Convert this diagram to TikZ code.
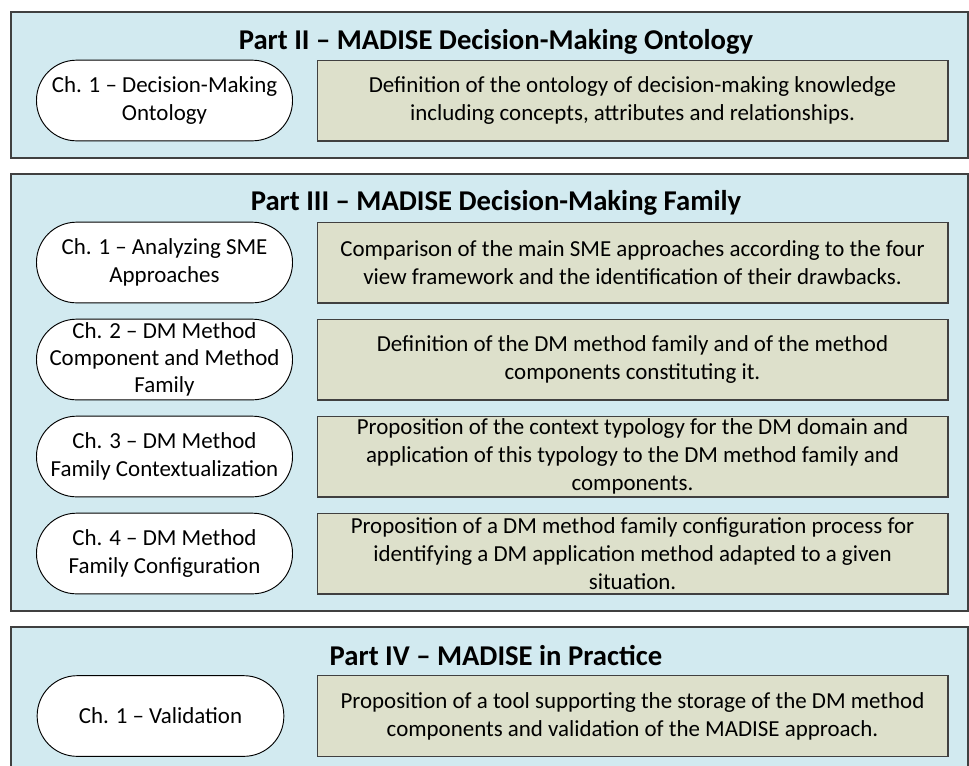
\documentclass[tikz,border=0pt]{standalone}
\usepackage{fontspec}
\setmainfont{Carlito}
\definecolor{partblue}{RGB}{210,234,240}
\definecolor{descgreen}{RGB}{221,224,203}
\definecolor{edgegray}{RGB}{64,64,64}
\tikzset{
  partpanel/.style={draw=edgegray,line width=1.1pt,fill=partblue},
  parttitle/.style={font=\bfseries\fontsize{21.5}{25}\selectfont},
  chapter/.style={draw=black,line width=0.7pt,fill=white,rounded corners=30pt,
    minimum width=192pt,minimum height=60.5pt,align=center,inner sep=0pt,
    font=\fontsize{17.2}{20.5}\selectfont},
  desc/.style={draw=edgegray,line width=1pt,fill=descgreen,
    minimum width=473pt,minimum height=60.5pt,align=center,inner sep=0pt,
    font=\fontsize{17.2}{21}\selectfont}
}
\begin{document}
\begin{tikzpicture}[x=0.75pt,y=-0.75pt]
\useasboundingbox (0,0) rectangle (969,765);
\begin{scope}
\draw[partpanel] (11,12) rectangle (968,158);
\draw[partpanel] (11,174) rectangle (968,611);
\draw[partpanel] (11,627) rectangle (968,790);
\end{scope}
\begin{scope}
\node[parttitle] (titleII) at (496,42) {Part II -- MADISE Decision-Making Ontology};
\node[chapter] (chIIa) at (164.5,100.5) {Ch. 1 -- Decision-Making\\Ontology};
\node[desc] (descIIa) at (632.5,100.5) {Definition of the ontology of decision-making knowledge\\including concepts, attributes and relationships.};
\end{scope}
\begin{scope}
\node[parttitle] (titleIII) at (496,203) {Part III -- MADISE Decision-Making Family};
\node[chapter] (chIIIa) at (164.5,262.5) {Ch. 1 -- Analyzing SME\\Approaches};
\node[desc] (descIIIa) at (632.5,262.5) {Comparison of the main SME approaches according to the four\\view framework and the identification of their drawbacks.};
\node[chapter] (chIIIb) at (164.5,359.5) {Ch. 2 -- DM Method\\Component and Method\\Family};
\node[desc] (descIIIb) at (632.5,359.5) {Definition of the DM method family and of the method\\components constituting it.};
\node[chapter] (chIIIc) at (164.5,456.5) {Ch. 3 -- DM Method\\Family Contextualization};
\node[desc] (descIIIc) at (632.5,456.5) {Proposition of the context typology for the DM domain and\\application of this typology to the DM method family and\\components.};
\node[chapter] (chIIId) at (164.5,553.5) {Ch. 4 -- DM Method\\Family Configuration};
\node[desc] (descIIId) at (632.5,553.5) {Proposition of a DM method family configuration process for\\identifying a DM application method adapted to a given\\situation.};
\end{scope}
\begin{scope}
\node[parttitle] (titleIV) at (496,656) {Part IV -- MADISE in Practice};
\node[chapter,minimum width=185pt] (chIVa) at (160.5,716) {Ch. 1 -- Validation};
\node[desc] (descIVa) at (632.5,716) {Proposition of a tool supporting the storage of the DM method\\components and validation of the MADISE approach.};
\end{scope}
\end{tikzpicture}
\end{document}
